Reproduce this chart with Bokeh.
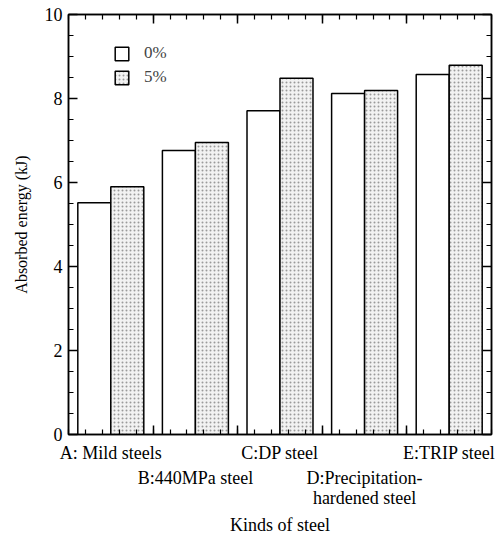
import numpy as np
from bokeh.plotting import figure
from bokeh.models import LinearAxis, Range1d, Legend, LegendItem, FixedTicker
from bokeh.embed import file_html
from bokeh.resources import INLINE

categories = ["A: Mild steels", "B:440MPa steel", "C:DP steel",
              "D:Precipitation-\nhardened steel", "E:TRIP steel"]
strain_0 = [5.52, 6.76, 7.71, 8.12, 8.57]
strain_5 = [5.90, 6.95, 8.48, 8.19, 8.79]
series_names = ["0%", "5%"]
y_ticks = [0, 2, 4, 6, 8, 10]
x_ticks = [1, 2, 3, 4]

FONT = "Liberation Serif"
idx = np.arange(len(categories))
bw = 0.39

p = figure(frame_width=423, frame_height=420, x_range=Range1d(0, 5), y_range=Range1d(0, 10),
           output_backend="svg", toolbar_location=None,
           min_border_left=68, min_border_right=4, min_border_top=14, min_border_bottom=0)
p.xgrid.visible = False
p.ygrid.visible = False
p.outline_line_color = "black"
p.outline_line_width = 1.5

r0 = p.vbar(x=idx + 0.5 - bw / 2, top=strain_0, width=bw, bottom=0,
            fill_color="white", line_color="black", line_width=1.5)
r5 = p.vbar(x=idx + 0.5 + bw / 2, top=strain_5, width=bw, bottom=0,
            fill_color="#f2f2f2", line_color="black", line_width=1.5,
            hatch_pattern="dot", hatch_color="#9a9a9a", hatch_scale=4, hatch_weight=0.5)

def style_axis(ax, ticks, labels=True):
    ax.axis_line_color = "black"
    ax.axis_line_width = 1.5
    ax.major_tick_in = 9
    ax.major_tick_out = 0
    ax.minor_tick_in = 5
    ax.minor_tick_out = 0
    ax.major_tick_line_width = 1.5
    ax.minor_tick_line_width = 1.2
    ax.major_tick_line_color = "black"
    ax.minor_tick_line_color = "black"
    ax.major_label_text_color = "black"
    ax.axis_label_text_color = "black"
    if not labels:
        ax.major_label_overrides = {t: "" for t in ticks}
        ax.major_label_standoff = 0

def label_axis(ticks, texts, standoff):
    ax = LinearAxis(ticker=FixedTicker(ticks=ticks, minor_ticks=[]),
                    major_label_overrides={t: s for t, s in zip(ticks, texts)})
    ax.axis_line_color = None
    ax.major_tick_line_color = None
    ax.minor_tick_line_color = None
    ax.major_tick_in = 0
    ax.major_tick_out = 0
    ax.minor_tick_out = 0
    ax.major_label_standoff = standoff
    ax.major_label_text_font = FONT
    ax.major_label_text_font_size = "18px"
    ax.major_label_text_color = "black"
    ax.major_label_orientation = "horizontal"
    p.add_layout(ax, "below")
    return ax

y_minor = list(np.arange(0, 10.01, 0.5))
x_minor = list(np.arange(0, 5.01, 0.2))

p.yaxis.ticker = FixedTicker(ticks=y_ticks, minor_ticks=y_minor)
style_axis(p.yaxis[0], y_ticks)
p.yaxis.major_label_text_font = FONT
p.yaxis.major_label_text_font_size = "18px"
p.yaxis.major_label_standoff = 6
p.yaxis.axis_label = "Absorbed energy (kJ)"
p.yaxis.axis_label_text_font = FONT
p.yaxis.axis_label_text_font_size = "16px"
p.yaxis.axis_label_text_font_style = "normal"
p.yaxis.axis_label_standoff = 12

p.xaxis.ticker = FixedTicker(ticks=x_ticks, minor_ticks=x_minor)
style_axis(p.xaxis[0], x_ticks, labels=False)

ra = LinearAxis(ticker=FixedTicker(ticks=y_ticks, minor_ticks=y_minor))
style_axis(ra, y_ticks, labels=False)
p.add_layout(ra, "right")
ta = LinearAxis(ticker=FixedTicker(ticks=x_ticks, minor_ticks=x_minor))
style_axis(ta, x_ticks, labels=False)
p.add_layout(ta, "above")

row_a = [0, 2, 4]
row_b = [1, 3]
label_axis([i + 0.5 for i in row_a], [categories[i] for i in row_a], 8)
label_axis([i + 0.5 for i in row_b], [categories[i].split("\n")[0] for i in row_b], 2)
last = label_axis([3.5], [categories[3].split("\n")[1]], -3)
last.axis_label = "Kinds of steel"
last.axis_label_text_font = FONT
last.axis_label_text_font_size = "18px"
last.axis_label_text_font_style = "normal"
last.axis_label_text_color = "black"
last.axis_label_standoff = 4

legend = Legend(items=[LegendItem(label=series_names[0], renderers=[r0]),
                       LegendItem(label=series_names[1], renderers=[r5])],
                location=(45, 347), orientation="vertical")
legend.glyph_width = 17
legend.glyph_height = 17
legend.spacing = 4
legend.padding = 0
legend.margin = 0
legend.label_standoff = 14
legend.label_text_font = FONT
legend.label_text_font_size = "17px"
legend.label_height = 17
legend.border_line_color = None
legend.background_fill_alpha = 0
p.add_layout(legend, "center")

open("out.html", "w").write(file_html(p, INLINE))
